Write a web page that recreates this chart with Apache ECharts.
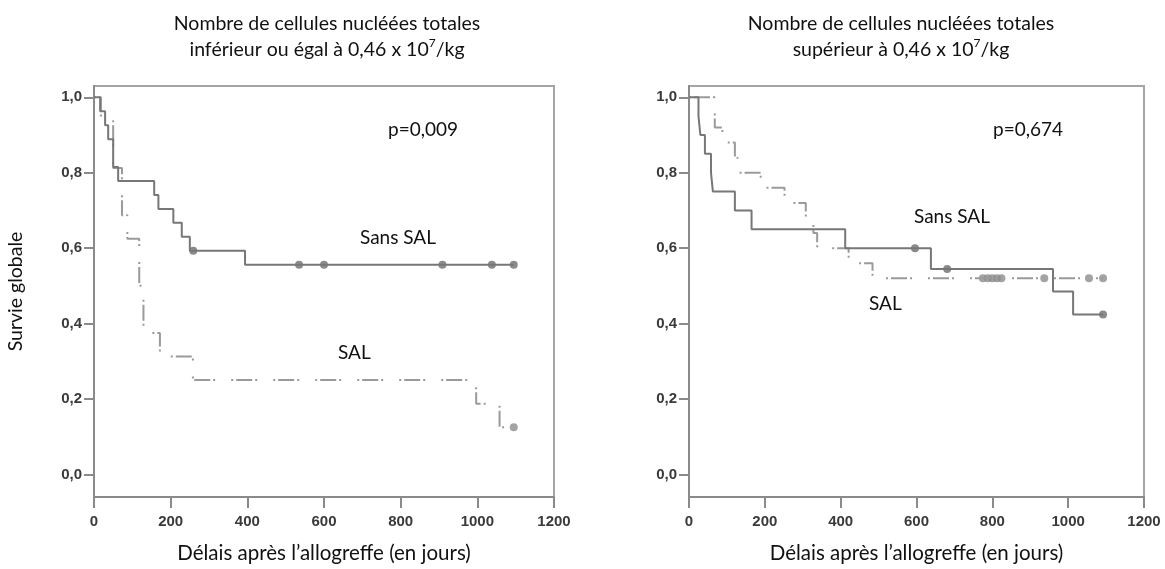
<!DOCTYPE html>
<html>
<head>
<meta charset="utf-8">
<style>
  html, body { margin: 0; background: #fff; }
  #chart { width: 1165px; height: 569px; }
</style>
<script src="https://cdn.jsdelivr.net/npm/echarts@6.0.0/dist/echarts.min.js"></script>
</head>
<body>
<div id="chart"></div>
<script>
// axis ticks
var xTicks = [0, 200, 400, 600, 800, 1000, 1200];
var yTicks = [0, 0.2, 0.4, 0.6, 0.8, 1.0];

// left panel: <= 0,46 x 10^7/kg
var leftSansTimes = [0, 16, 29, 37, 50, 63, 157, 168, 207, 229, 250, 394, 1095];
var leftSansSurv = [1.0, 0.963, 0.926, 0.889, 0.815, 0.778, 0.741, 0.704, 0.667, 0.630, 0.593, 0.556, 0.556];
var leftSansCensTimes = [259, 535, 600, 909, 1038, 1095];
var leftSansCensSurv = [0.593, 0.556, 0.556, 0.556, 0.556, 0.556];

var leftSalTimes = [0, 18, 50, 73, 87, 118, 129, 172, 258, 997, 1058, 1095];
var leftSalSurv = [1.0, 0.9375, 0.8125, 0.6875, 0.625, 0.5, 0.375, 0.3125, 0.25, 0.1875, 0.125, 0.125];
var leftSalCensTimes = [1095];
var leftSalCensSurv = [0.125];

// right panel: > 0,46 x 10^7/kg
var rightSansTimes = [0, 25, 30, 42, 58, 63, 121, 165, 412, 638, 960, 1013, 1092];
var rightSansSurv = [1.0, 0.95, 0.90, 0.85, 0.80, 0.75, 0.70, 0.65, 0.60, 0.545, 0.485, 0.424, 0.424];
var rightSansCensTimes = [596, 681, 1092];
var rightSansCensSurv = [0.60, 0.545, 0.424];

var rightSalTimes = [0, 68, 88, 121, 128, 189, 252, 308, 328, 338, 421, 484, 1092];
var rightSalSurv = [1.0, 0.92, 0.88, 0.84, 0.80, 0.76, 0.72, 0.68, 0.64, 0.60, 0.56, 0.52, 0.52];
var rightSalCensTimes = [775, 788, 800, 812, 824, 937, 1055, 1092];
var rightSalCensSurv = [0.52, 0.52, 0.52, 0.52, 0.52, 0.52, 0.52, 0.52];

var textFont = "Lato";
var lineColor = "#777";
var dashColor = "#9a9a9a";
var axisColor = "#8a8a8a";

function pairs(xs, ys) {
  return xs.map(function (x, i) { return [x, ys[i]]; });
}

function xAxisFor(idx) {
  return {
    gridIndex: idx,
    type: "value",
    min: xTicks[0],
    max: xTicks[xTicks.length - 1],
    interval: 200,
    name: "Délais après l’allogreffe (en jours)",
    nameLocation: "middle",
    nameGap: 46,
    nameTextStyle: { fontFamily: textFont, fontSize: 20.5, color: "#111" },
    axisLine: { onZero: false, lineStyle: { color: axisColor, width: 2 } },
    axisTick: { length: 11, lineStyle: { color: axisColor, width: 2 } },
    axisLabel: {
      margin: 17, fontFamily: "Liberation Sans", fontWeight: "bold", fontSize: 15, color: "#3a3a3a",
      formatter: function (v) { return String(v); }
    },
    splitLine: { show: false }
  };
}

function yAxisFor(idx, withName) {
  return {
    gridIndex: idx,
    type: "value",
    min: -0.06,
    max: 1.03,
    name: withName ? "Survie globale" : "",
    nameLocation: "middle",
    nameGap: 68,
    nameTextStyle: { fontFamily: textFont, fontSize: 19.5, color: "#111" },
    axisLine: { show: true, lineStyle: { color: axisColor, width: 2 } },
    axisTick: { show: true, length: 10, customValues: yTicks, lineStyle: { color: axisColor, width: 2 } },
    axisLabel: {
      margin: 12,
      customValues: yTicks,
      fontFamily: "Liberation Sans", fontWeight: "bold", fontSize: 15, color: "#3a3a3a",
      formatter: function (v) { return v.toFixed(1).replace(".", ","); }
    },
    splitLine: { show: false }
  };
}

function stepSeries(idx, data, dashed) {
  return {
    type: "line",
    xAxisIndex: idx,
    yAxisIndex: idx,
    step: "end",
    symbol: "none",
    data: data,
    lineStyle: dashed
      ? { color: dashColor, width: 2, type: [2, 3, 16, 3, 2, 16] }
      : { color: lineColor, width: 2 }
  };
}

function censorSeries(idx, data, color) {
  return {
    type: "scatter",
    xAxisIndex: idx,
    yAxisIndex: idx,
    symbol: "circle",
    symbolSize: 8,
    data: data,
    itemStyle: { color: color }
  };
}

var titleRich = {
  sup: { fontFamily: textFont, fontSize: 12, color: "#111", verticalAlign: "top", padding: [0, 0, 9, 0] }
};

function noteText(x, y, txt) {
  return {
    type: "text",
    left: x,
    top: y,
    style: { text: txt, fontFamily: textFont, fontSize: 19, fill: "#111" }
  };
}

var chart = echarts.init(document.getElementById("chart"));
chart.setOption({
  animation: false,
  backgroundColor: "#fff",
  title: [
    {
      text: "Nombre de cellules nucléées totales\ninférieur ou égal à 0,46 x 10{sup|7}/kg",
      left: 322, top: 6, textAlign: "center",
      textStyle: { fontFamily: textFont, fontSize: 19.5, fontWeight: "normal", color: "#111", lineHeight: 26, rich: titleRich }
    },
    {
      text: "Nombre de cellules nucléées totales\nsupérieur à 0,46 x 10{sup|7}/kg",
      left: 896, top: 6, textAlign: "center",
      textStyle: { fontFamily: textFont, fontSize: 19.5, fontWeight: "normal", color: "#111", lineHeight: 26, rich: titleRich }
    }
  ],
  grid: [
    { left: 94, right: 611, top: 86, bottom: 69, show: true, borderColor: "#a5a5a5", borderWidth: 2 },
    { left: 689, right: 21, top: 86, bottom: 69, show: true, borderColor: "#a5a5a5", borderWidth: 2 }
  ],
  xAxis: [xAxisFor(0), xAxisFor(1)],
  yAxis: [yAxisFor(0, true), yAxisFor(1, false)],
  series: [
    stepSeries(0, pairs(leftSalTimes, leftSalSurv), true),
    stepSeries(0, pairs(leftSansTimes, leftSansSurv), false),
    censorSeries(0, pairs(leftSansCensTimes, leftSansCensSurv), "#6e6e6e"),
    censorSeries(0, pairs(leftSalCensTimes, leftSalCensSurv), "#8c8c8c"),
    stepSeries(1, pairs(rightSalTimes, rightSalSurv), true),
    stepSeries(1, pairs(rightSansTimes, rightSansSurv), false),
    censorSeries(1, pairs(rightSansCensTimes, rightSansCensSurv), "#6e6e6e"),
    censorSeries(1, pairs(rightSalCensTimes, rightSalCensSurv), "#8c8c8c")
  ],
  graphic: [
    noteText(388, 120, "p=0,009"),
    noteText(360, 228, "Sans SAL"),
    noteText(338, 343, "SAL"),
    noteText(993, 120, "p=0,674"),
    noteText(914, 207, "Sans SAL"),
    noteText(869, 294, "SAL")
  ]
});
</script>
</body>
</html>
